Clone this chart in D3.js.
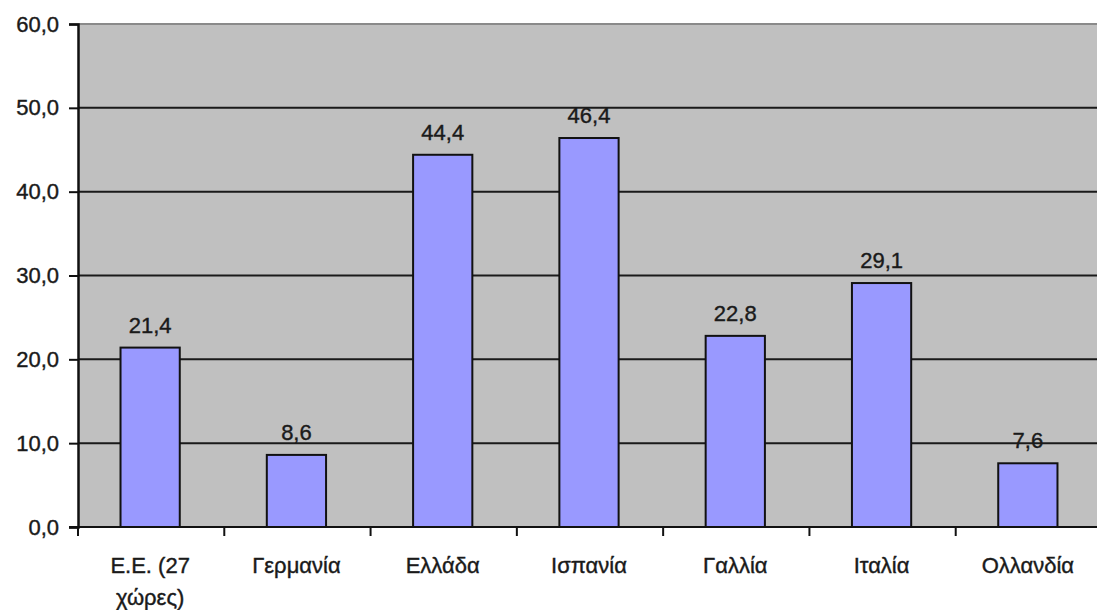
<!DOCTYPE html>
<html>
<head>
<meta charset="utf-8">
<script src="https://cdn.jsdelivr.net/npm/d3@7"></script>
<style>
  body { margin: 0; background: #fff; }
  svg { display: block; font-family: "Liberation Sans", Arial, sans-serif; }
</style>
</head>
<body>
<div id="chart"></div>
<script>
// data
const categories = [['Ε.Ε. (27', 'χώρες)'], ['Γερμανία'], ['Ελλάδα'], ['Ισπανία'], ['Γαλλία'], ['Ιταλία'], ['Ολλανδία']];
const values = [21.4, 8.6, 44.4, 46.4, 22.8, 29.1, 7.6];
const yTicks = [0, 10, 20, 30, 40, 50, 60];

const width = 1097, height = 610;
const margin = {top: 24, right: -5, bottom: 83, left: 78};
const fs = 22;
const fmt = v => d3.format('.1f')(v).replace('.', ',');

const svg = d3.select('#chart')
    .append('svg')
    .attr('width', width)
    .attr('height', height);

const keys = categories.map((c, i) => i);

const x = d3.scaleBand()
    .domain(keys)
    .range([margin.left, width - margin.right])
    .padding(0);

const y = d3.scaleLinear()
    .domain([0, 60])
    .range([height - margin.bottom, margin.top]);

// plot background
svg.append('rect')
    .attr('x', margin.left)
    .attr('y', y(60))
    .attr('width', width - margin.right - margin.left)
    .attr('height', y(0) - y(60))
    .attr('fill', '#c0c0c0');

// grid lines
svg.selectAll('.grid')
    .data(yTicks.filter(d => d > 0))
    .enter().append('line')
    .attr('class', 'grid')
    .attr('x1', margin.left)
    .attr('x2', width)
    .attr('y1', d => y(d))
    .attr('y2', d => y(d))
    .attr('stroke', d => d === 60 ? '#8a8a8a' : '#1a1a1a')
    .attr('stroke-width', 2);

// bars
const barW = x.bandwidth() * 0.405;
svg.selectAll('.bar')
    .data(values)
    .enter().append('rect')
    .attr('class', 'bar')
    .attr('x', (d, i) => x(i) + x.bandwidth() / 2 - barW / 2 - 1)
    .attr('y', d => y(d))
    .attr('width', barW)
    .attr('height', d => y(0) - y(d))
    .attr('fill', '#9999ff')
    .attr('stroke', '#111')
    .attr('stroke-width', 2);

// value labels
svg.selectAll('.val')
    .data(values)
    .enter().append('text')
    .attr('class', 'val')
    .attr('x', (d, i) => x(i) + x.bandwidth() / 2 - 1)
    .attr('y', d => y(d) - 15)
    .attr('text-anchor', 'middle')
    .attr('font-size', fs)
    .attr('fill', '#1a1a1a')
    .attr('stroke', '#1a1a1a')
    .attr('stroke-width', 0.4)
    .text(d => fmt(d));

// y axis
const yAxis = svg.append('g')
    .attr('transform', `translate(${margin.left},0)`)
    .call(d3.axisLeft(y).tickValues(yTicks).tickFormat(fmt).tickSize(9).tickPadding(10));
yAxis.select('.domain').attr('stroke', '#111').attr('stroke-width', 2.5);
yAxis.selectAll('.tick line').attr('stroke', '#111').attr('stroke-width', 2);
yAxis.selectAll('.tick text')
    .attr('font-size', fs)
    .attr('font-family', '"Liberation Sans", Arial, sans-serif')
    .attr('fill', '#1a1a1a')
    .attr('stroke', '#1a1a1a')
    .attr('stroke-width', 0.4);

// x axis baseline and boundary ticks
svg.append('line')
    .attr('x1', margin.left - 9)
    .attr('x2', width)
    .attr('y1', y(0))
    .attr('y2', y(0))
    .attr('stroke', '#111')
    .attr('stroke-width', 2);

svg.selectAll('.xtick')
    .data(keys)
    .enter().append('line')
    .attr('class', 'xtick')
    .attr('x1', d => x(d))
    .attr('x2', d => x(d))
    .attr('y1', y(0))
    .attr('y2', y(0) + 9)
    .attr('stroke', '#111')
    .attr('stroke-width', 2);

// category labels
const lbl = svg.selectAll('.cat')
    .data(categories)
    .enter().append('text')
    .attr('class', 'cat')
    .attr('x', (d, i) => x(i) + x.bandwidth() / 2 - 1)
    .attr('y', 573)
    .attr('text-anchor', 'middle')
    .attr('font-size', fs)
    .attr('fill', '#1a1a1a')
    .attr('stroke', '#1a1a1a')
    .attr('stroke-width', 0.4);

lbl.selectAll('tspan')
    .data(d => d)
    .enter().append('tspan')
    .attr('x', function() { return d3.select(this.parentNode).attr('x'); })
    .attr('dy', (d, i) => i === 0 ? 0 : 32)
    .text(d => d);
</script>
</body>
</html>
